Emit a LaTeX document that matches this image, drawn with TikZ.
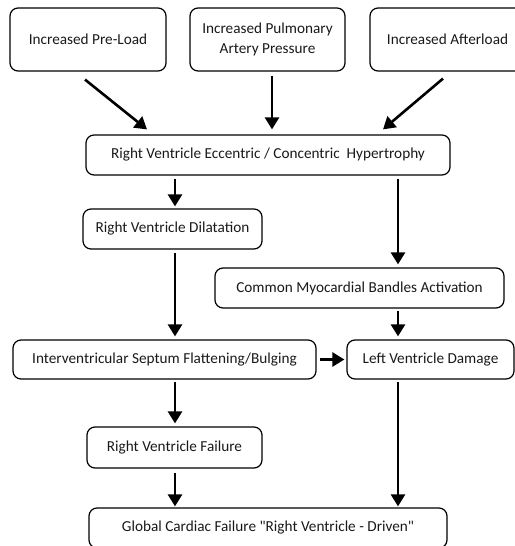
\documentclass[tikz,border=0pt]{standalone}
\usepackage{fontspec}
\setmainfont{Carlito}[Ligatures=TeXOff]
\usetikzlibrary{arrows.meta,calc}
\begin{document}
\begin{tikzpicture}[x=1bp,y=-1bp,
  box/.style={draw=black, line width=1.2bp, rounded corners=8bp, inner sep=0pt, align=center,
    font=\fontsize{15.3}{19.5}\selectfont, text=black!90},
  arr/.style={line width=2.6bp, -{Triangle[length=12bp,width=14bp]}}]
\useasboundingbox (0,0) rectangle (515,546);
\clip (0,0) rectangle (515,546);
\coordinate (cL) at (175,0);
\coordinate (cR) at (398,0);
\coordinate (cM) at (272,0);
% top row
\node[box, minimum width=156bp, minimum height=63bp] (pre) at (88,39.5) {Increased Pre-Load};
\node[box, minimum width=155bp, minimum height=63bp] (pul) at (267.5,39.5) {Increased Pulmonary\\Artery Pressure};
\node[box, minimum width=155bp, minimum height=63bp] (aft) at (447.5,39.5) {Increased Afterload};
% hypertrophy
\node[box, minimum width=364bp, minimum height=40bp] (hyp) at (268,155) {Right Ventricle Eccentric / Concentric~ Hypertrophy};
\node[box, minimum width=179bp, minimum height=40bp] (dil) at (172.5,229) {Right Ventricle Dilatation};
\node[box, minimum width=289bp, minimum height=40bp] (com) at (359.5,288) {Common Myocardial Bandles Activation};
\node[box, minimum width=303bp, minimum height=39bp] (sep) at (164.5,359.5) {Interventricular Septum Flattening/Bulging};
\node[box, minimum width=167bp, minimum height=39bp] (lv) at (430.5,359.5) {Left Ventricle Damage};
\node[box, minimum width=175bp, minimum height=41bp] (rvf) at (174.5,447.5) {Right Ventricle Failure};
\node[box, minimum width=358bp, minimum height=40bp] (glob) at (268,528) {Global Cardiac Failure "Right Ventricle - Driven"};
% arrows
\draw[arr] ([shift={(-3,8)}]pre.south) -- ([shift={(-121,-5)}]hyp.north);
\draw[arr, shorten <=4bp, shorten >=5bp] (pul.south -| cM) -- (hyp.north -| cM);
\draw[arr] ([shift={(-4.5,7)}]aft.south) -- ([shift={(115,-5)}]hyp.north);
\draw[arr, shorten <=3bp, shorten >=2bp] (hyp.south -| cL) -- (dil.north -| cL);
\draw[arr, shorten <=3bp, shorten >=3bp] (hyp.south -| cR) -- (com.north -| cR);
\draw[arr, shorten <=3bp, shorten >=3bp] (dil.south -| cL) -- (sep.north -| cL);
\draw[arr, shorten <=2bp, shorten >=3bp] (com.south -| cR) -- (lv.north -| cR);
\draw[arr, shorten <=3bp, shorten >=2bp] (sep.east) -- (lv.west);
\draw[arr, shorten <=2bp, shorten >=3bp] (sep.south -| cL) -- (rvf.north -| cL);
\draw[arr, shorten <=2bp, shorten >=1bp] (lv.south -| cR) -- (glob.north -| cR);
\draw[arr, shorten <=4bp, shorten >=1bp] (rvf.south -| cL) -- (glob.north -| cL);
\end{tikzpicture}
\end{document}
